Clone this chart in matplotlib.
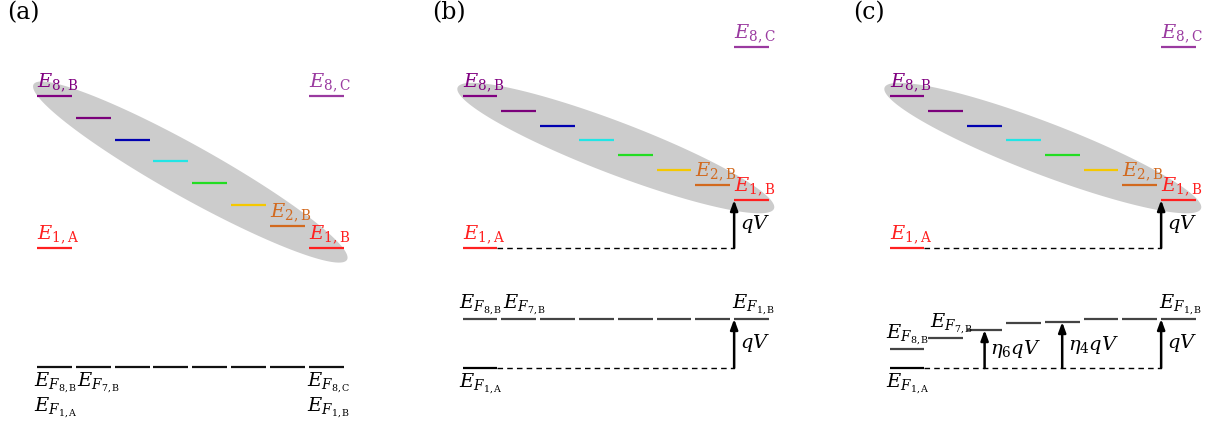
import numpy as np
import matplotlib
matplotlib.use("Agg")
import matplotlib.pyplot as plt
from matplotlib.patches import Polygon

plt.rcParams["mathtext.fontset"] = "dejavuserif"
plt.rcParams["font.family"] = "DejaVu Serif"

# Energies in arbitrary units (E_{1,A} = 0); index 0 -> level 8, index 7 -> level 1
levels_a = [7.0, 6.0, 5.0, 4.0, 3.0, 2.0, 1.0, 0.0]
levels_b = [7.0, 6.31, 5.62, 4.98, 4.29, 3.59, 2.90, 2.21]
levels_c = [7.0, 6.31, 5.62, 4.98, 4.29, 3.59, 2.90, 2.21]
e8c = [7.0, 9.26, 9.26]
e1a = [0.0, 0.0, 0.0]
fermi_a = [-5.48] * 8
fermi_b = [-3.27] * 8
fermi_c = [-4.65, -4.15, -3.78, -3.46, -3.41, -3.27, -3.27, -3.27]
fermi_1a = [-5.48, -5.53, -5.53]
panel_names = ["(a)", "(b)", "(c)"]

level_colors = ["#800080", "#7a007a", "#0000b0", "#22e5e5",
                "#22dd22", "#f5c800", "#d2691e", "#ff2020"]
e8c_color = "#9a3aa0"

W, H = 1209, 430
fig = plt.figure(figsize=(W / 100, H / 100), dpi=100)
panel_left = [15.7, 441.2, 868.2]
panel_label_x = [7, 432, 853]
half = 0.45
FS = 14


def label(ax, text, x, y, color="k", above=True, dy=1.5):
    ax.annotate(text, (x, y), xytext=(0, dy if above else -dy),
                textcoords="offset points", ha="left",
                va="bottom" if above else "top", color=color, fontsize=FS)


def arrow(ax, x, y0, y1):
    ax.annotate("", xy=(x, y1), xytext=(x, y0),
                arrowprops=dict(arrowstyle="-|>,head_width=0.22,head_length=0.6",
                                lw=1.8, color="k", shrinkA=0, shrinkB=0))


def draw_ellipse(ax, levels):
    p0 = ax.transData.transform((0, levels[0]))
    p1 = ax.transData.transform((7, levels[-1]))
    c = (p0 + p1) / 2
    d = p1 - p0
    a = np.hypot(*d) / 2 + 24
    b = 26
    u = d / np.hypot(*d)
    v = np.array([-u[1], u[0]])
    t = np.linspace(0, 2 * np.pi, 200)
    pts = c + np.outer(a * np.cos(t), u) + np.outer(b * np.sin(t), v)
    pts = ax.transData.inverted().transform(pts)
    ax.add_patch(Polygon(pts, closed=True, facecolor="#cccccc",
                         edgecolor="none", zorder=0))


all_levels = [levels_a, levels_b, levels_c]
all_fermi = [fermi_a, fermi_b, fermi_c]

for p in range(3):
    ax = fig.add_axes([panel_left[p] / W, 0, 388 / W, 1])
    ax.set_xlim(-1, 9)
    ax.set_ylim((248 - H) / 21.7, 248 / 21.7)
    ax.axis("off")
    levels = all_levels[p]
    fermi = all_fermi[p]
    idx = np.arange(8)

    draw_ellipse(ax, levels)

    # band levels of B
    for i in idx:
        ax.hlines(levels[i], i - half, i + half, color=level_colors[i], lw=1.6, zorder=2)
    # E_{8,C} and E_{1,A}
    ax.hlines(e8c[p], 7 - half, 7 + half, color=e8c_color, lw=1.6, zorder=2)
    ax.hlines(e1a[p], -half, half, color="#ff2020", lw=1.6, zorder=2)

    label(ax, r"$E_{8,\mathrm{B}}$", -half, levels[0], color="#800080")
    label(ax, r"$E_{2,\mathrm{B}}$", 6 - half, levels[6], color="#d2691e")
    label(ax, r"$E_{1,\mathrm{B}}$", 7 - half, levels[7], color="#ff2020")
    label(ax, r"$E_{8,\mathrm{C}}$", 7 - half, e8c[p], color=e8c_color)
    label(ax, r"$E_{1,\mathrm{A}}$", -half, e1a[p], color="#ff2020")

    if p == 0:
        for i in idx:
            ax.hlines(fermi[i], i - half, i + half, color="#111111", lw=1.6)
        label(ax, r"$E_{F_{8,\mathrm{B}}}$", -half - 0.08, fermi[0], above=False, dy=3)
        label(ax, r"$E_{F_{7,\mathrm{B}}}$", 1 - half + 0.03, fermi[1], above=False, dy=3)
        label(ax, r"$E_{F_{1,\mathrm{A}}}$", -half - 0.08, fermi[0], above=False, dy=21)
        label(ax, r"$E_{F_{8,\mathrm{C}}}$", 7 - half - 0.05, fermi[7], above=False, dy=3)
        label(ax, r"$E_{F_{1,\mathrm{B}}}$", 7 - half - 0.05, fermi[7], above=False, dy=21)
        continue

    # applied bias: dashed references and arrows
    ax.hlines(e1a[p], half, 7 - half, color="k", lw=1.0, linestyles=(0, (4, 3)))
    arrow(ax, 7 - half, e1a[p], levels[7])
    ax.text(7 - half + 0.15, (e1a[p] + levels[7]) / 2, r"$qV$", fontsize=FS,
            ha="left", va="center")

    for i in idx:
        ax.hlines(fermi[i], i - half, i + half, color="#444444", lw=1.6)
    ax.hlines(fermi_1a[p], -half, half, color="k", lw=1.6)
    ax.hlines(fermi_1a[p], half, 7 - half, color="k", lw=1.0, linestyles=(0, (4, 3)))
    arrow(ax, 7 - half, fermi_1a[p], fermi[7])
    ax.text(7 - half + 0.15, (fermi_1a[p] + fermi[7]) / 2, r"$qV$", fontsize=FS,
            ha="left", va="center")

    label(ax, r"$E_{F_{8,\mathrm{B}}}$", -half - 0.08, fermi[0])
    label(ax, r"$E_{F_{7,\mathrm{B}}}$", 1 - half + 0.03, fermi[1])
    label(ax, r"$E_{F_{1,\mathrm{B}}}$", 7 - half - 0.05, fermi[7])
    label(ax, r"$E_{F_{1,\mathrm{A}}}$", -half - 0.08, fermi_1a[p], above=False, dy=3)

    if p == 2:
        for i, name in [(2, r"$\eta_6qV$"), (4, r"$\eta_4qV$")]:
            arrow(ax, i, fermi_1a[p], fermi[i])
            ax.text(i + 0.15, (fermi_1a[p] + fermi[i]) / 2, name, fontsize=FS,
                    ha="left", va="center")

for p in range(3):
    fig.text(panel_label_x[p] / W, 1 - 1 / H, panel_names[p], fontsize=17,
             ha="left", va="top")

fig.savefig("out.png", dpi=100)
